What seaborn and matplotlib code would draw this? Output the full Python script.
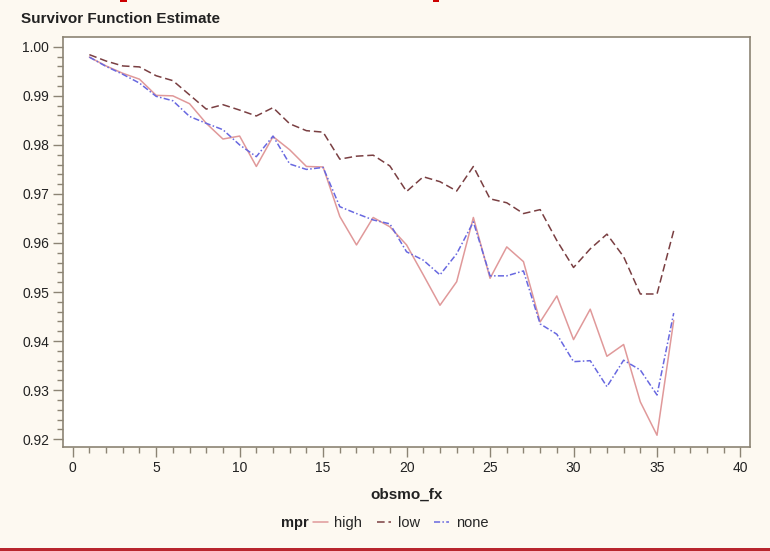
import numpy as np
import pandas as pd
import matplotlib
matplotlib.use("Agg")
import matplotlib.pyplot as plt
import seaborn as sns
from matplotlib.patches import Rectangle

months = list(range(1, 37))
high = [0.9979, 0.9961, 0.9946, 0.9934, 0.9901, 0.9900, 0.9884, 0.9844, 0.9812, 0.9818,
        0.9756, 0.9817, 0.9790, 0.9756, 0.9755, 0.9654, 0.9596, 0.9652, 0.9633, 0.9596,
        0.9535, 0.9473, 0.9521, 0.9652, 0.9528, 0.9592, 0.9562, 0.9439, 0.9492, 0.9403,
        0.9465, 0.9369, 0.9393, 0.9276, 0.9208, 0.9442]
low = [0.9984, 0.9971, 0.9961, 0.9959, 0.9941, 0.9931, 0.9902, 0.9873, 0.9882, 0.9871,
       0.9859, 0.9876, 0.9843, 0.9829, 0.9826, 0.9771, 0.9777, 0.9779, 0.9757, 0.9705,
       0.9735, 0.9725, 0.9706, 0.9756, 0.9690, 0.9682, 0.9660, 0.9668, 0.9605, 0.9550,
       0.9588, 0.9618, 0.9572, 0.9496, 0.9496, 0.9625]
none = [0.9979, 0.9960, 0.9944, 0.9926, 0.9899, 0.9890, 0.9858, 0.9844, 0.9831, 0.9800,
        0.9776, 0.9818, 0.9761, 0.9750, 0.9754, 0.9674, 0.9660, 0.9647, 0.9639, 0.9582,
        0.9565, 0.9535, 0.9578, 0.9643, 0.9533, 0.9533, 0.9543, 0.9435, 0.9414, 0.9358,
        0.9360, 0.9307, 0.9361, 0.9341, 0.9290, 0.9457]
groups = ["high", "low", "none"]

df = pd.DataFrame({
    "obsmo_fx": months * 3,
    "survival": high + low + none,
    "mpr": ["high"] * 36 + ["low"] * 36 + ["none"] * 36,
})

sns.set_theme(style="white")
plt.rcParams['font.family'] = ['Liberation Sans', 'DejaVu Sans']

bg = "#fdf9f1"
edge = "#8c8474"
palette = {"high": "#e0999a", "low": "#7a3f42", "none": "#6868e0"}
dashes = {"high": "", "low": (5, 2.5), "none": (4, 1.5, 1, 1.5)}

fig = plt.figure(figsize=(7.7, 5.51), dpi=100, facecolor=bg)
ax = fig.add_axes([63/770, 104/551, 687/770, 410/551])
ax.set_facecolor("white")

sns.lineplot(data=df, x="obsmo_fx", y="survival", hue="mpr", style="mpr",
             hue_order=groups, style_order=groups, palette=palette, dashes=dashes,
             linewidth=1.1, ax=ax)

handles, labels = ax.get_legend_handles_labels()
ax.get_legend().remove()

ax.set_xlim(-0.58, 40.57)
ax.set_ylim(0.9184, 1.002)
ax.set_xticks(np.arange(0, 41, 5))
ax.set_xticks(np.arange(0, 41, 1), minor=True)
ax.set_yticks(np.arange(0.92, 1.0001, 0.01))
ax.set_yticks(np.arange(0.92, 1.0001, 0.002), minor=True)
ax.set_yticklabels([f"{v:.2f}" for v in np.arange(0.92, 1.0001, 0.01)])
ax.tick_params(axis="both", which="major", direction="out", length=7, width=1,
               color=edge, labelsize=10, labelcolor="#222222", pad=3)
ax.tick_params(axis="both", which="minor", direction="out", length=4, width=1, color=edge)
ax.tick_params(axis="y", which="both", left=True)
ax.tick_params(axis="x", which="both", bottom=True)
for s in ax.spines.values():
    s.set_color(edge)
    s.set_linewidth(1.2)
    s.set_visible(True)

ax.set_ylabel("")
ax.set_xlabel("obsmo_fx", fontsize=11, fontweight="bold", labelpad=9, color="#222222")

fig.text(21/770, 1 - 19/551, "Survivor Function Estimate", fontsize=11, fontweight="bold",
         ha="left", va="center", color="#222222")

fig.text(309/770, 1 - 523/551, "mpr", fontsize=10.5, fontweight="bold", ha="right",
         va="center", color="#222222")
fig.legend(handles, labels, loc="center left", bbox_to_anchor=(313/770, 1 - 523/551),
           ncol=3, frameon=False, fontsize=10.5, handlelength=1.0, handletextpad=0.45,
           columnspacing=1.0, borderaxespad=0, borderpad=0)

fig.patches.append(Rectangle((0, 0), 1, 3.5/551, transform=fig.transFigure,
                             facecolor="#b8262e", edgecolor="none"))
fig.patches.append(Rectangle((120/770, 1 - 2/551), 7/770, 2/551, transform=fig.transFigure,
                             facecolor="#cc0000", edgecolor="none"))
fig.patches.append(Rectangle((433/770, 1 - 2/551), 6/770, 2/551, transform=fig.transFigure,
                             facecolor="#cc0000", edgecolor="none"))

fig.savefig("out.png", dpi=100, facecolor=bg)
